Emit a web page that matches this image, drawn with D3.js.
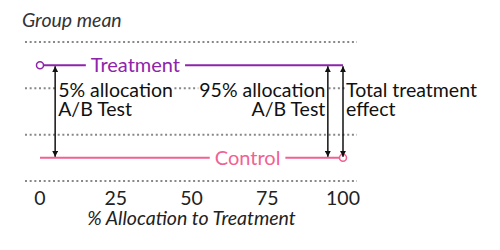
<!DOCTYPE html>
<html>
<head>
<meta charset="utf-8">
<script src="https://cdn.jsdelivr.net/npm/d3@7"></script>
<style>
  body { margin: 0; background: #fff; }
  svg { font-family: Lato, "Open Sans", sans-serif; }
</style>
</head>
<body>
<div id="chart"></div>
<script>
// data
var allocTicks = [0, 25, 50, 75, 100];
var gridValues = [0, 1, 2, 3];
var groups = ["Treatment", "Control"];
var groupMeans = [2.5, 0.5];
var groupLabelAt = [31.5, 68.5];
var groupCircleAt = [0, 100];
var groupColors = ["#8e24aa", "#f06292"];
var arrowAt = [5, 95, 100];
var arrowText = [["5% allocation", "A/B Test"], ["95% allocation", "A/B Test"], ["Total treatment", "effect"]];

var width = 500, height = 250;

var x = d3.scaleLinear().domain([0, 100]).range([40, 343]);
var y = d3.scaleLinear().domain([0, 3]).range([181, 42]);

var svg = d3.select("#chart").append("svg")
  .attr("width", width)
  .attr("height", height);

var defs = svg.append("defs");
["start", "end"].forEach(function(k) {
  defs.append("marker")
    .attr("id", "arrow-" + k)
    .attr("viewBox", "0 0 10 10")
    .attr("refX", 10).attr("refY", 5)
    .attr("markerWidth", 4).attr("markerHeight", 4)
    .attr("orient", k == "start" ? "auto-start-reverse" : "auto")
    .attr("markerUnits", "strokeWidth")
    .append("path")
      .attr("d", "M0,0L10,5L0,10z")
      .attr("fill", "#111");
});

// title
svg.append("text")
  .attr("x", 22).attr("y", 27)
  .style("font-style", "italic")
  .style("font-size", "19.5px")
  .attr("fill", "#333")
  .text("Group mean");

// dotted grid
svg.selectAll(".grid")
  .data(gridValues)
  .enter()
  .append("line")
    .attr("x1", x(0) - 15).attr("x2", x(100) + 14)
    .attr("y1", function(d) { return y(d); })
    .attr("y2", function(d) { return y(d); })
    .attr("stroke", "#888")
    .attr("stroke-width", 2)
    .attr("stroke-dasharray", "2,2.67");

// group lines
svg.selectAll(".grp")
  .data(groups)
  .enter()
  .append("line")
    .attr("x1", x(0)).attr("x2", x(100))
    .attr("y1", function(d, i) { return y(groupMeans[i]); })
    .attr("y2", function(d, i) { return y(groupMeans[i]); })
    .attr("stroke", function(d, i) { return groupColors[i]; })
    .attr("stroke-width", 2);

svg.selectAll(".dot")
  .data(groups)
  .enter()
  .append("circle")
    .attr("cx", function(d, i) { return x(groupCircleAt[i]); })
    .attr("cy", function(d, i) { return y(groupMeans[i]); })
    .attr("r", 3.5)
    .attr("fill", "#fff")
    .attr("stroke", function(d, i) { return groupColors[i]; })
    .attr("stroke-width", 1.5);

// text with white box behind it
function boxed(sel, pad) {
  sel.each(function() {
    var node = this;
    var b = node.getBBox();
    d3.select(node.parentNode).insert("rect", function() { return node; })
      .attr("x", b.x - pad).attr("y", b.y + 3)
      .attr("width", b.width + 2 * pad).attr("height", b.height - 6)
      .attr("fill", "#fff");
  });
}

var glabels = svg.selectAll(".glab")
  .data(groups)
  .enter()
  .append("g");
glabels.append("text")
  .attr("x", function(d, i) { return x(groupLabelAt[i]); })
  .attr("y", function(d, i) { return y(groupMeans[i]) + 7; })
  .attr("text-anchor", "middle")
  .style("font-size", "20px")
  .attr("fill", function(d, i) { return groupColors[i]; })
  .text(function(d) { return d; });
glabels.selectAll("text").call(boxed, 5);

// arrow labels
var alabels = svg.selectAll(".alab")
  .data(arrowAt)
  .enter()
  .append("g");
alabels.append("text")
  .attr("x", function(d, i) { return i == 1 ? x(d) - 2.5 : x(d) + 3; })
  .attr("y", 97)
  .attr("text-anchor", function(d, i) { return i == 1 ? "end" : "start"; })
  .style("font-size", "19.5px")
  .attr("fill", "#111")
  .selectAll("tspan")
  .data(function(d, i) { return arrowText[i]; })
  .enter()
  .append("tspan")
    .attr("x", function() { return d3.select(this.parentNode).attr("x"); })
    .attr("dy", function(d, j) { return j ? 19 : 0; })
    .text(function(d) { return d; });
alabels.selectAll("text").call(boxed, 1);

// arrows
svg.selectAll(".arrow")
  .data(arrowAt)
  .enter()
  .append("line")
    .attr("x1", function(d) { return x(d); })
    .attr("x2", function(d) { return x(d); })
    .attr("y1", y(groupMeans[0]) + 1)
    .attr("y2", y(groupMeans[1]) - 1)
    .attr("stroke", "#111")
    .attr("stroke-width", 1.5)
    .attr("marker-start", "url(#arrow-start)")
    .attr("marker-end", "url(#arrow-end)");

// x axis labels
svg.selectAll(".tick")
  .data(allocTicks)
  .enter()
  .append("text")
    .attr("x", function(d) { return x(d); })
    .attr("y", 205)
    .attr("text-anchor", "middle")
    .style("font-size", "19.5px")
    .attr("fill", "#222")
    .text(function(d) { return d; });

svg.append("text")
  .attr("x", (x(0) + x(100)) / 2)
  .attr("y", 225)
  .attr("text-anchor", "middle")
  .style("font-style", "italic")
  .style("font-size", "19.5px")
  .attr("fill", "#222")
  .text("% Allocation to Treatment");
</script>
</body>
</html>
